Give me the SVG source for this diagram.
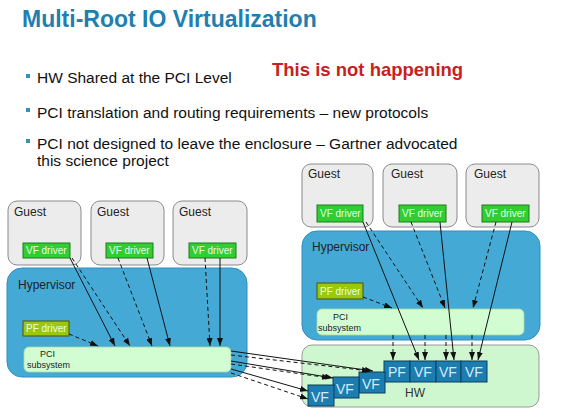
<svg xmlns="http://www.w3.org/2000/svg" width="580" height="417" viewBox="0 0 580 417">
<defs>
<marker id="ah" markerUnits="userSpaceOnUse" markerWidth="8" markerHeight="6" refX="8" refY="3" orient="auto"><path d="M0,0 L8,3 L0,6 z" fill="#111"/></marker>
<style>
text{font-family:"Liberation Sans",Arial,sans-serif}
.guest{fill:#ececec;stroke:#8a8a8a;stroke-width:1}
.hyp{fill:#44aad5;stroke:#2f8fbb;stroke-width:1}
.pci{fill:#d2fcd2;stroke:#a8d8a8;stroke-width:0.8}
.vfd{fill:#33cc33;stroke:#1d7a1d;stroke-width:1}
.pfd{fill:#9cc80c;stroke:#4a5400;stroke-width:1}
.hw{fill:#cff7cf;stroke:#9a9a9a;stroke-width:1}
.cell{fill:#1b7db0;stroke:#0f3f58;stroke-width:1}
.t12{font-size:12px;fill:#222}
.drv{font-size:10px;fill:#e6ffe6}
.sub{font-size:9px;fill:#222}
.celltxt{font-size:14px;fill:#d6ebf6}
.bul{font-size:15.5px;fill:#111}
.sq{fill:#3a8fb5}
.c{stroke:#111;stroke-width:1;fill:none;marker-end:url(#ah)}
.d{stroke-dasharray:4,3}
</style>
</defs>
<rect width="580" height="417" fill="#ffffff"/>

<g id="title">
<text x="22" y="27" font-size="23" font-weight="bold" fill="#1f7fae">Multi-Root IO Virtualization</text>
</g>
<g id="bullets">
<rect class="sq" x="26" y="74" width="4" height="4"/>
<text class="bul" x="37" y="83">HW Shared at the PCI Level</text>
<rect class="sq" x="26" y="108" width="4" height="4"/>
<text class="bul" x="37" y="117.5">PCI translation and routing requirements – new protocols</text>
<rect class="sq" x="26" y="139" width="4" height="4"/>
<text class="bul" x="37" y="149">PCI not designed to leave the enclosure – Gartner advocated</text>
<text class="bul" x="37" y="166">this science project</text>
</g>
<g id="note">
<text x="272" y="76" font-size="18.5" font-weight="bold" fill="#c8201e">This is not happening</text>
</g>

<!-- Left side -->
<g id="L-guest1"><rect class="guest" x="8" y="201" width="73" height="64" rx="9"/><text class="t12" x="14" y="216">Guest</text></g>
<g id="L-guest2"><rect class="guest" x="91" y="201" width="73" height="64" rx="9"/><text class="t12" x="97" y="216">Guest</text></g>
<g id="L-guest3"><rect class="guest" x="173" y="201" width="74" height="64" rx="9"/><text class="t12" x="179" y="216">Guest</text></g>
<g id="L-hypervisor"><rect class="hyp" x="7" y="268" width="240" height="109" rx="15"/><text class="t12" x="18" y="289">Hypervisor</text></g>
<g id="L-vfd1"><rect class="vfd" x="23" y="243" width="47" height="15"/><text class="drv" x="26" y="254">VF driver</text></g>
<g id="L-vfd2"><rect class="vfd" x="106" y="243" width="47" height="15"/><text class="drv" x="109" y="254">VF driver</text></g>
<g id="L-vfd3"><rect class="vfd" x="189" y="243" width="47" height="15"/><text class="drv" x="192" y="254">VF driver</text></g>
<g id="L-pfd"><rect class="pfd" x="23" y="321" width="46" height="15"/><text class="drv" x="26" y="332">PF driver</text></g>
<g id="L-pci"><rect class="pci" x="24" y="347" width="207" height="25" rx="5"/><text class="sub" x="40" y="357">PCI</text><text class="sub" x="27" y="368">subsystem</text></g>

<!-- Right side -->
<g id="R-guest1"><rect class="guest" x="302" y="164" width="71" height="63" rx="9"/><text class="t12" x="308" y="178">Guest</text></g>
<g id="R-guest2"><rect class="guest" x="383" y="164" width="74" height="63" rx="9"/><text class="t12" x="391" y="178">Guest</text></g>
<g id="R-guest3"><rect class="guest" x="466" y="164" width="73" height="63" rx="9"/><text class="t12" x="474" y="178">Guest</text></g>
<g id="R-hypervisor"><rect class="hyp" x="302" y="231" width="238" height="109" rx="15"/><text class="t12" x="312" y="251">Hypervisor</text></g>
<g id="R-vfd1"><rect class="vfd" x="317" y="205" width="46" height="17"/><text class="drv" x="320" y="217">VF driver</text></g>
<g id="R-vfd2"><rect class="vfd" x="399" y="205" width="47" height="17"/><text class="drv" x="402" y="217">VF driver</text></g>
<g id="R-vfd3"><rect class="vfd" x="482" y="205" width="47" height="17"/><text class="drv" x="485" y="217">VF driver</text></g>
<g id="R-pfd"><rect class="pfd" x="317" y="283" width="46" height="16"/><text class="drv" x="320" y="295">PF driver</text></g>
<g id="R-pci"><rect class="pci" x="317" y="309" width="207" height="26" rx="5"/><text class="sub" x="333" y="320">PCI</text><text class="sub" x="318" y="331">subsystem</text></g>

<!-- HW -->
<g id="hw"><rect class="hw" x="302" y="345" width="237" height="62" rx="10"/><text x="405" y="397" font-size="12" fill="#333">HW</text></g>
<g id="hw-pf"><rect class="cell" x="384" y="361" width="26" height="21"/><text class="celltxt" x="388" y="377">PF</text></g>
<g id="hw-vf1"><rect class="cell" x="410" y="361" width="26" height="21"/><text class="celltxt" x="414" y="377">VF</text></g>
<g id="hw-vf2"><rect class="cell" x="436" y="361" width="25" height="21"/><text class="celltxt" x="439" y="377">VF</text></g>
<g id="hw-vf3"><rect class="cell" x="461" y="361" width="26" height="21"/><text class="celltxt" x="465" y="377">VF</text></g>
<g id="hw-svf3"><rect class="cell" x="359" y="372" width="26" height="21"/><text class="celltxt" x="362" y="389">VF</text></g>
<g id="hw-svf2"><rect class="cell" x="333" y="377" width="26" height="21"/><text class="celltxt" x="336" y="394">VF</text></g>
<g id="hw-svf1"><rect class="cell" x="308" y="385" width="26" height="21"/><text class="celltxt" x="311" y="402">VF</text></g>

<g id="connectors">
<!-- left -->
<line class="c" x1="70" y1="258" x2="115" y2="346"/>
<line class="c d" x1="72" y1="258" x2="130" y2="346"/>
<line class="c d" x1="118" y1="258" x2="152" y2="346"/>
<line class="c" x1="147" y1="258" x2="170" y2="346"/>
<line class="c d" x1="205" y1="258" x2="210" y2="346"/>
<line class="c" x1="220" y1="258" x2="220" y2="346"/>
<line class="c d" x1="69" y1="334" x2="98" y2="346"/>
<!-- left PCI to HW -->
<line class="c" x1="231" y1="351" x2="373" y2="371"/>
<line class="c d" x1="231" y1="355" x2="370" y2="371"/>
<line class="c" x1="231" y1="361" x2="333" y2="378"/>
<line class="c d" x1="231" y1="364" x2="330" y2="378"/>
<line class="c" x1="231" y1="369" x2="308" y2="391"/>
<line class="c d" x1="231" y1="373" x2="308" y2="399"/>
<!-- right -->
<line class="c d" x1="366" y1="222" x2="423" y2="308"/>
<line class="c d" x1="411" y1="222" x2="445" y2="308"/>
<line class="c d" x1="496" y1="222" x2="473" y2="308"/>
<line class="c d" x1="363" y1="297" x2="392" y2="308"/>
<line class="c" x1="363" y1="222" x2="419" y2="360"/>
<line class="c" x1="440" y1="222" x2="454" y2="360"/>
<line class="c" x1="512" y1="222" x2="478" y2="360"/>
<line class="c d" x1="393" y1="335" x2="393" y2="360"/>
<line class="c d" x1="425" y1="335" x2="425" y2="360"/>
<line class="c d" x1="446" y1="335" x2="446" y2="360"/>
<line class="c d" x1="472" y1="335" x2="472" y2="360"/>
</g>
</svg>
